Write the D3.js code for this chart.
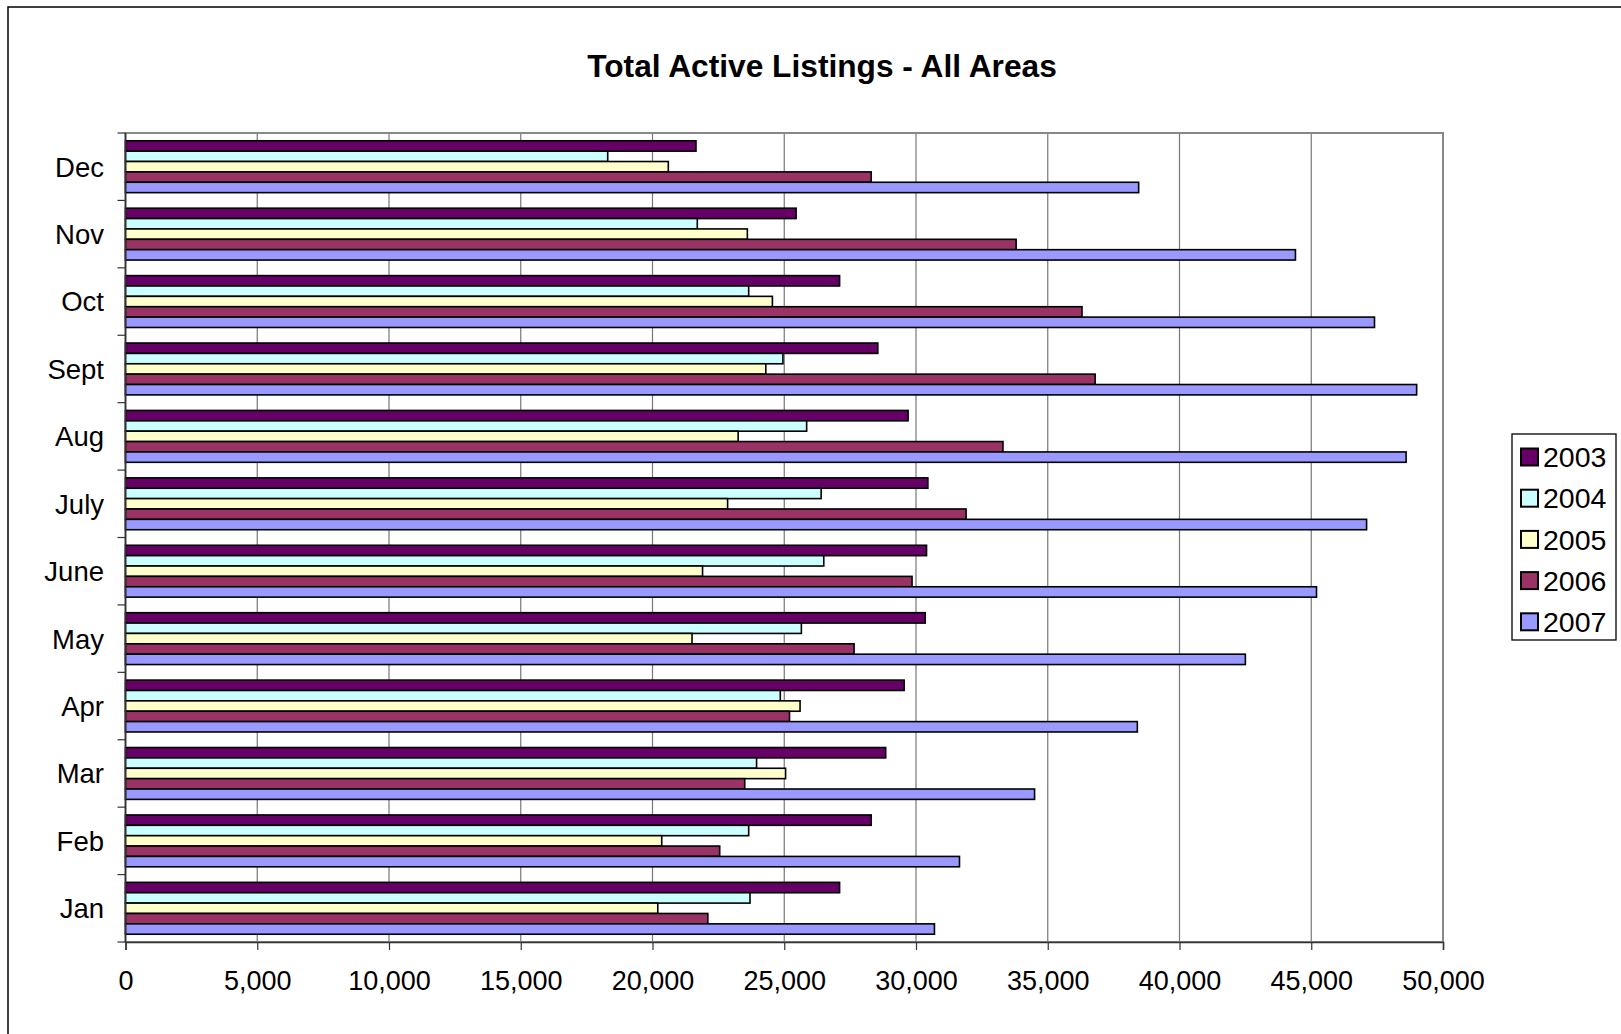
<!DOCTYPE html>
<html>
<head>
<meta charset="utf-8">
<script src="https://cdn.jsdelivr.net/npm/d3@7"></script>
<style>
  html, body { margin: 0; padding: 0; background: #fff; }
  text { font-family: "Liberation Sans", Arial, sans-serif; }
</style>
</head>
<body>
<div id="chart"></div>
<script>
// Total Active Listings chart, drawn with D3

const months = ["Jan", "Feb", "Mar", "Apr", "May", "June", "July", "Aug", "Sept", "Oct", "Nov", "Dec"];
const years = ["2003", "2004", "2005", "2006", "2007"];
const colors = ["#660066", "#ccffff", "#ffffcc", "#993366", "#9999ff"];

// values per month, Jan..Dec
const v2003 = [27100, 28300, 28850, 29550, 30350, 30400, 30450, 29700, 28550, 27100, 25450, 21650];
const v2004 = [23700, 23650, 23950, 24850, 25650, 26500, 26400, 25850, 24950, 23650, 21700, 18300];
const v2005 = [20200, 20350, 25050, 25600, 21500, 21900, 22850, 23250, 24300, 24550, 23600, 20600];
const v2006 = [22100, 22550, 23500, 25200, 27650, 29850, 31900, 33300, 36800, 36300, 33800, 28300];
const v2007 = [30700, 31650, 34500, 38400, 42500, 45200, 47100, 48600, 49000, 47400, 44400, 38450];
const xTicks = [0, 5000, 10000, 15000, 20000, 25000, 30000, 35000, 40000, 45000, 50000];

const series = [v2003, v2004, v2005, v2006, v2007];

const width = 1621;
const height = 1034;
const plot = { left: 125.5, right: 1443, top: 133, bottom: 942 };

const svg = d3.select("#chart")
    .append("svg")
    .attr("width", width)
    .attr("height", height);

// outer chart frame (right/bottom edges fall off the picture)
svg.append("rect")
    .attr("x", 8).attr("y", 7)
    .attr("width", width + 20).attr("height", height + 20)
    .attr("fill", "#fff")
    .attr("stroke", "#000")
    .attr("stroke-width", 1.5);

svg.append("text")
    .attr("x", 822)
    .attr("y", 76.5)
    .attr("text-anchor", "middle")
    .attr("font-size", "31.7px")
    .attr("font-weight", "bold")
    .text("Total Active Listings - All Areas");

const x = d3.scaleLinear().domain([0, 50000]).range([plot.left, plot.right]);
const y = d3.scaleBand().domain(months).range([plot.bottom, plot.top]);
const yInner = d3.scaleBand().domain(years).range([0, y.bandwidth()])
    .paddingInner(0).paddingOuter(0.75);

// gridlines
svg.append("g")
    .selectAll("line")
    .data(xTicks.slice(1, -1))
    .join("line")
    .attr("x1", d => x(d)).attr("x2", d => x(d))
    .attr("y1", plot.top).attr("y2", plot.bottom)
    .attr("stroke", "#777")
    .attr("stroke-width", 1.2);

// plot border
svg.append("rect")
    .attr("x", plot.left).attr("y", plot.top)
    .attr("width", plot.right - plot.left)
    .attr("height", plot.bottom - plot.top)
    .attr("fill", "none")
    .attr("stroke", "#888")
    .attr("stroke-width", 2);

// bars
months.forEach((m, i) => {
    const g = svg.append("g").attr("transform", `translate(0,${y(m)})`);
    years.forEach((yr, k) => {
        g.append("rect")
            .attr("x", x(0))
            .attr("y", yInner(yr))
            .attr("width", x(series[k][i]) - x(0))
            .attr("height", yInner.bandwidth())
            .attr("fill", colors[k])
            .attr("stroke", "#000")
            .attr("stroke-width", 1.6);
    });
});

// x axis
const xAxis = svg.append("g")
    .attr("transform", `translate(0,${plot.bottom})`)
    .call(d3.axisBottom(x).tickValues(xTicks).tickFormat(d3.format(",")).tickSizeOuter(0).tickSize(8).tickPadding(21));
xAxis.select(".domain").attr("stroke", "#333").attr("stroke-width", 1.5);
xAxis.selectAll(".tick line").attr("stroke", "#333").attr("stroke-width", 1.2);
xAxis.selectAll("text")
    .attr("font-size", "27px")
    .attr("font-family", "Liberation Sans, Arial, sans-serif")
    .attr("fill", "#000");

// y axis
const yAxisScale = d3.scalePoint().domain(d3.range(13)).range([plot.bottom, plot.top]);
const yAxis = svg.append("g")
    .attr("transform", `translate(${plot.left},0)`);
yAxis.append("line")
    .attr("x1", 0).attr("x2", 0)
    .attr("y1", plot.top).attr("y2", plot.bottom)
    .attr("stroke", "#333").attr("stroke-width", 1.5);
yAxis.selectAll("line.tick")
    .data(d3.range(13))
    .join("line")
    .attr("class", "tick")
    .attr("x1", -8).attr("x2", 0)
    .attr("y1", d => yAxisScale(d)).attr("y2", d => yAxisScale(d))
    .attr("stroke", "#333").attr("stroke-width", 1.2);
yAxis.selectAll("text")
    .data(months)
    .join("text")
    .attr("x", -21.5)
    .attr("y", d => y(d) + y.bandwidth() / 2)
    .attr("dy", "0.36em")
    .attr("text-anchor", "end")
    .attr("font-size", "27.5px")
    .text(d => d);

// legend
const legend = svg.append("g").attr("transform", "translate(1512,434)");
legend.append("rect")
    .attr("width", 104).attr("height", 206)
    .attr("fill", "#fff")
    .attr("stroke", "#000")
    .attr("stroke-width", 1.3);
years.forEach((yr, k) => {
    const cy = 23 + k * 41.2;
    legend.append("rect")
        .attr("x", 9).attr("y", cy - 8.5)
        .attr("width", 17).attr("height", 17)
        .attr("fill", colors[k])
        .attr("stroke", "#000")
        .attr("stroke-width", 2);
    legend.append("text")
        .attr("x", 31)
        .attr("y", cy)
        .attr("dy", "0.36em")
        .attr("font-size", "28.5px")
        .text(yr);
});
</script>
</body>
</html>
